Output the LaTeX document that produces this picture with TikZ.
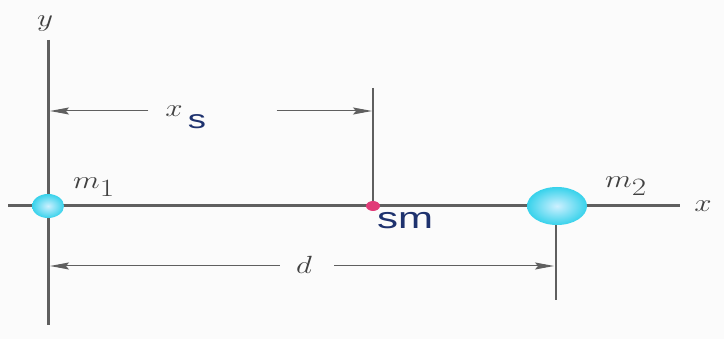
\documentclass[tikz,border=0pt]{standalone}
\usepackage{fontspec}
\usetikzlibrary{arrows.meta,shapes.geometric}
\newfontfamily\sansf{Liberation Sans}
\newcommand{\hstretch}[1]{\scalebox{1.25}[1]{#1}}
\newcommand{\hstretchs}[1]{\scalebox{1.4}[1]{#1}}
\definecolor{axisgray}{RGB}{95,95,95}
\definecolor{labgray}{RGB}{65,65,65}
\definecolor{navy}{RGB}{30,50,110}
\definecolor{cyanedge}{RGB}{55,210,235}
\definecolor{cyanmid}{RGB}{205,240,255}
\definecolor{pinkdot}{RGB}{225,60,120}
\definecolor{bg}{RGB}{251,251,251}
\begin{document}
\begin{tikzpicture}[x=1pt,y=-1pt,
  axis/.style={draw=axisgray,line width=3pt},
  guide/.style={draw=axisgray,line width=2pt},
  dim/.style={draw=axisgray,line width=1pt,-{Stealth[length=19pt,width=7pt,inset=3pt]}},
  mathlab/.style={text=labgray,font=\fontsize{34}{38}\selectfont,inner sep=0pt},
  sanslab/.style={text=navy,font=\sansf\fontsize{30}{34}\selectfont,inner sep=0pt},
  mass/.style={ellipse,inner sep=0pt,inner color=cyanmid,outer color=cyanedge},
  gap/.style={fill=bg,inner sep=0pt}]
\fill[bg] (0,0) rectangle (724,339);
\useasboundingbox (0,0) rectangle (724,339);
% axes
\coordinate (ytop) at (48,40);
\coordinate (ybot) at (48,325);
\coordinate (xl) at (8,206);
\coordinate (xr) at (680,206);
\draw[axis] (ytop) -- (ybot);
\draw[axis] (xl) -- (xr);
% guide lines
\coordinate (stop) at (373,88);
\coordinate (sbase) at (373,206);
\coordinate (m2base) at (556,206);
\coordinate (m2bot) at (556,300);
\draw[guide] (stop) -- (sbase);
\draw[guide] (m2base) -- (m2bot);
% xs dimension
\coordinate (xsL) at (50,111);
\coordinate (xsR) at (372,111);
\node[gap,minimum width=128pt,minimum height=34pt] (xsgap) at (212.5,117) {};
\draw[dim] (xsgap.west |- xsL) -- (xsL);
\draw[dim] (xsgap.east |- xsR) -- (xsR);
\node[mathlab,font=\fontsize{30}{34}\selectfont] (xsx) at (174,111) {\hstretch{$x$}};
\node[sanslab,font=\sansf\fontsize{26}{30}\selectfont] (xss) at (197,122) {\hstretchs{s}};
% d dimension
\coordinate (dL) at (50,266);
\coordinate (dR) at (554,266);
\node[gap,minimum width=54pt,minimum height=24pt] (dgap) at (307,266) {};
\draw[dim] (dgap.west |- dL) -- (dL);
\draw[dim] (dgap.east |- dR) -- (dR);
\node[mathlab] (dlab) at (304,265) {\hstretch{$d$}};
% masses
\node[mass,minimum width=32pt,minimum height=24pt] (m1) at (48,206) {};
\node[mass,minimum width=60pt,minimum height=38pt] (m2) at (557,206) {};
\node[ellipse,fill=pinkdot,inner sep=0pt,minimum width=14pt,minimum height=10pt] (sm) at (373,206) {};
% labels
\node[mathlab] (ylab) at (45,24) {\hstretch{$y$}};
\node[mathlab] (xlab) at (703,206) {\hstretch{$x$}};
\node[mathlab] (m1lab) at (94,187) {\hstretch{$m_1$}};
\node[mathlab] (m2lab) at (626,186) {\hstretch{$m_2$}};
\node[sanslab] (smlab) at (405,221) {\hstretchs{sm}};
\end{tikzpicture}
\end{document}
